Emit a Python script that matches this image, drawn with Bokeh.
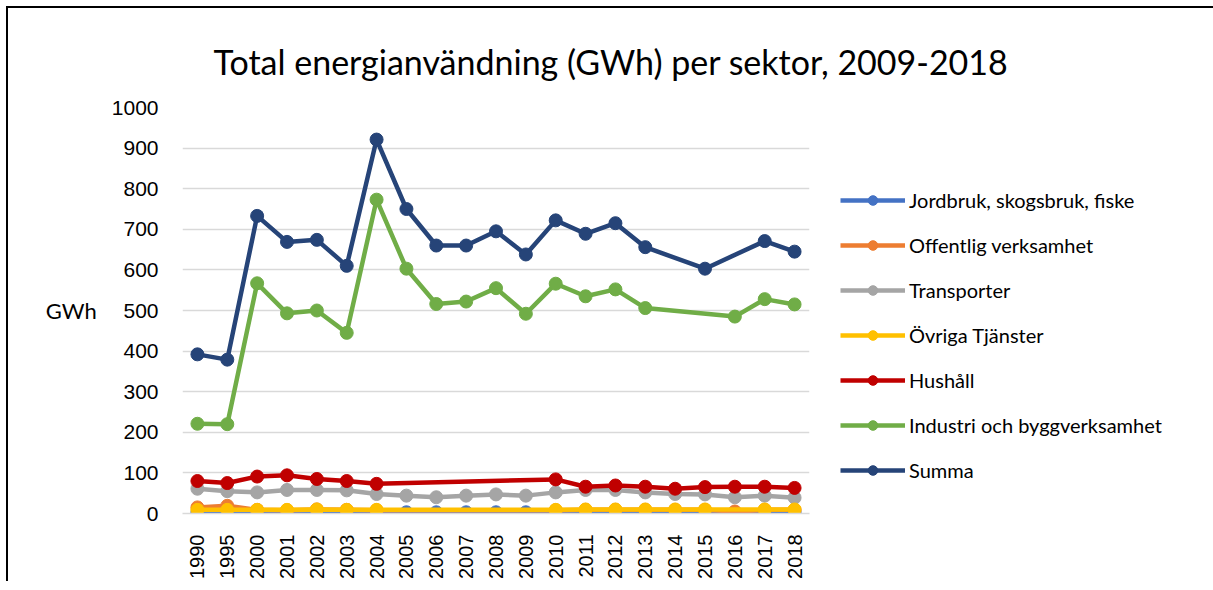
import math
from bokeh.plotting import figure
from bokeh.models import ColumnDataSource, Legend, LegendItem, FixedTicker, Range1d
from bokeh.embed import file_html
from bokeh.resources import INLINE

NaN = float("nan")
years = ["1990", "1995", "2000", "2001", "2002", "2003", "2004", "2005", "2006", "2007",
         "2008", "2009", "2010", "2011", "2012", "2013", "2014", "2015", "2016", "2017", "2018"]

jordbruk = [3, 3, 3, 2, 3, 3, 3, 3, 3, 3, 3, 3, 3, 3, 3, 3, 3, 3, 3, 3, 3]
offentlig = [15, 19, 9, 8, 10, 9, 8, NaN, NaN, NaN, NaN, NaN, 8, 9, 9, 9, 9, 9, 5, 9, 9]
transporter = [61, 55, 52, 58, 58, 57, 48, 44, 40, 44, 47, 44, 52, 58, 58, 52, 48, 47, 40, 44, 39]
ovriga = [9, 9, 9, 9, 10, 9, 9, NaN, NaN, NaN, NaN, NaN, 9, 10, 10, 10, 10, 10, NaN, 10, 10]
hushall = [80, 75, 91, 94, 85, 80, 73, NaN, NaN, NaN, NaN, NaN, 84, 66, 69, 66, 61, 65, 66, 66, 63]
industri = [221, 220, 567, 493, 500, 445, 773, 603, 516, 522, 555, 492, 566, 535, 552, 506, NaN, NaN, 485, 528, 515]
summa = [392, 379, 733, 669, 674, 610, 921, 750, 660, 660, 695, 638, 722, 689, 715, 656, NaN, 603, NaN, 671, 645]

series = [
    ("Jordbruk, skogsbruk, fiske", jordbruk, "#4472C4"),
    ("Offentlig verksamhet", offentlig, "#ED7D31"),
    ("Transporter", transporter, "#A5A5A5"),
    ("Övriga Tjänster", ovriga, "#FFC000"),
    ("Hushåll", hushall, "#C00000"),
    ("Industri och byggverksamhet", industri, "#70AD47"),
    ("Summa", summa, "#264478"),
]

FONT = "Lato"
TICKFONT = "Liberation Sans"
p = figure(frame_width=627, frame_height=406, output_backend="svg", toolbar_location=None,
           x_range=Range1d(-0.5, len(years) - 0.5), y_range=Range1d(0, 1000),
           min_border_left=174, min_border_right=404, min_border_top=99, min_border_bottom=66,
           title="Total energianvändning (GWh) per sektor, 2009-2018")
p.outline_line_color = None
p.background_fill_color = "white"
p.border_fill_color = "white"
p.styles = {"border-left": "2px solid black", "border-top": "2px solid black",
            "margin-left": "6px", "margin-top": "6px"}

p.title.align = "left"
p.title.offset = 31
p.title.text_font = FONT
p.title.text_font_size = "34px"
p.title.text_font_style = "normal"
p.title.text_color = "#000000"
p.title.standoff = 52

p.xaxis.ticker = FixedTicker(ticks=list(range(len(years))))
p.xaxis.major_label_overrides = {i: y for i, y in enumerate(years)}
p.xaxis.major_label_orientation = math.pi / 2
p.xaxis.major_tick_line_color = None
p.xaxis.minor_tick_line_color = None
p.xaxis.axis_line_color = "#D9D9D9"
p.xaxis.axis_line_width = 1.5
p.xaxis.major_label_text_font = TICKFONT
p.xaxis.major_label_text_font_size = "20px"
p.xaxis.major_label_text_color = "#000000"
p.xaxis.major_label_standoff = 15

p.yaxis.ticker = FixedTicker(ticks=list(range(0, 1001, 100)))
p.yaxis.major_tick_line_color = None
p.yaxis.minor_tick_line_color = None
p.yaxis.axis_line_color = None
p.yaxis.major_label_text_font = TICKFONT
p.yaxis.major_label_text_font_size = "21px"
p.yaxis.major_label_text_color = "#000000"
p.yaxis.major_label_standoff = 18
p.yaxis.axis_label = "GWh"
p.yaxis.axis_label_text_font = FONT
p.yaxis.axis_label_text_font_size = "22px"
p.yaxis.axis_label_text_font_style = "normal"
p.yaxis.axis_label_text_color = "#000000"
p.yaxis.axis_label_standoff = 12
if "axis_label_orientation" in p.yaxis[0].properties():
    p.yaxis.axis_label_orientation = "horizontal"

p.xgrid.grid_line_color = None
p.ygrid.grid_line_color = "#D9D9D9"
p.ygrid.grid_line_width = 1.5

items = []
for name, vals, col in series:
    xs = [i for i, v in enumerate(vals) if not math.isnan(v)]
    ys = [v for v in vals if not math.isnan(v)]
    src = ColumnDataSource(dict(x=xs, y=ys))
    r1 = p.line("x", "y", source=src, line_color=col, line_width=4.5)
    r2 = p.scatter("x", "y", source=src, size=13, fill_color=col, line_color=col)
    items.append(LegendItem(label=name, renderers=[r1, r2]))

legend = Legend(items=items, location="bottom_left", orientation="vertical",
                glyph_width=65, glyph_height=24, label_height=24, spacing=21,
                label_standoff=4, padding=0, margin=31,
                label_text_font=FONT, label_text_font_size="20px", label_text_color="#000000",
                border_line_color=None, background_fill_alpha=0)
p.add_layout(legend, "right")

open("out.html", "w").write(file_html(p, INLINE))
